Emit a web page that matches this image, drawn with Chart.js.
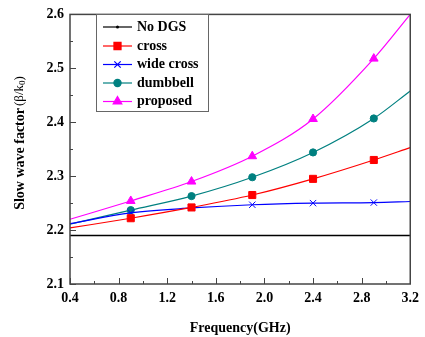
<!DOCTYPE html>
<html>
<head>
<meta charset="utf-8">
<script src="https://cdn.jsdelivr.net/npm/chart.js@4"></script>
<style>
  html, body { margin: 0; padding: 0; background: #fff; }
  #wrap { width: 425px; height: 337px; }
</style>
</head>
<body>
<div id="wrap"><canvas id="chart" width="425" height="337"></canvas></div>
<script>
// data
const freq = [0.4, 0.9, 1.4, 1.9, 2.4, 2.9, 3.2];
const noDgs = [2.19, 2.19, 2.19, 2.19, 2.19, 2.19, 2.19];
const cross = [2.204, 2.222, 2.242, 2.265, 2.295, 2.330, 2.353];
const wideCross = [2.212, 2.232, 2.241, 2.247, 2.250, 2.251, 2.253];
const dumbbell = [2.211, 2.237, 2.263, 2.298, 2.344, 2.407, 2.458];
const proposed = [2.220, 2.254, 2.290, 2.337, 2.406, 2.518, 2.600];

const xTicks = [0.4, 0.8, 1.2, 1.6, 2.0, 2.4, 2.8, 3.2];
const yTicks = [2.1, 2.2, 2.3, 2.4, 2.5, 2.6];

const FONT = '"Liberation Serif", "Times New Roman", serif';

function series(label, values, color, style, size, width) {
    return {
        label: label,
        data: freq.map((f, i) => ({ x: f, y: values[i] })),
        borderColor: color,
        backgroundColor: color,
        borderWidth: width || 1.2,
        pointStyle: style,
        // markers only on the inner points
        pointRadius: freq.map((f, i) => (!style || i === 0 || i === freq.length - 1) ? 0 : size),
        markerSize: size,
        pointBorderWidth: 1,
        cubicInterpolationMode: 'monotone',
        fill: false,
        clip: false
    };
}

// inward ticks, frame, y title and the boxed legend
const decor = {
    id: 'decor',
    afterDraw(chart) {
        const ctx = chart.ctx;
        const a = chart.chartArea;
        const xs = chart.scales.x, ys = chart.scales.y;
        ctx.save();
        ctx.strokeStyle = '#444';
        ctx.lineWidth = 1.5;
        ctx.strokeRect(a.left, a.top, a.right - a.left, a.bottom - a.top);

        ctx.lineWidth = 1;
        for (let v = 0.4; v <= 3.21; v += 0.2) {
            const px = Math.round(xs.getPixelForValue(v)) + 0.5;
            const major = Math.abs(Math.round(v / 0.4) * 0.4 - v) < 1e-6;
            ctx.beginPath();
            ctx.moveTo(px, a.bottom);
            ctx.lineTo(px, a.bottom - (major ? 6 : 3));
            ctx.stroke();
        }
        for (let v = 2.1; v <= 2.601; v += 0.05) {
            const py = Math.round(ys.getPixelForValue(v)) + 0.5;
            const major = Math.abs(Math.round(v * 10) / 10 - v) < 1e-6;
            ctx.beginPath();
            ctx.moveTo(a.left, py);
            ctx.lineTo(a.left + (major ? 6 : 3), py);
            ctx.stroke();
        }

        // y axis title: bold words, plain (β/k0) with subscript
        ctx.save();
        ctx.translate(20, 143);
        ctx.rotate(-Math.PI / 2);
        ctx.fillStyle = '#000';
        ctx.textBaseline = 'middle';
        const bold = 'bold 14px ' + FONT, plain = '13px ' + FONT, small = '9px ' + FONT;
        const parts = [['Slow wave factor', bold, 0], ['(β/k', plain, 0], ['0', small, 3], [')', plain, 0]];
        let total = 0;
        parts.forEach(p => { ctx.font = p[1]; total += ctx.measureText(p[0]).width; });
        total += 2;
        let x = -total / 2;
        parts.forEach((p, i) => {
            ctx.font = p[1];
            ctx.fillText(p[0], x, p[2]);
            x += ctx.measureText(p[0]).width + (i === 0 ? 2 : 0);
        });
        ctx.restore();

        // legend box
        const bx = 96, by = 14, bw = 112, bh = 97;
        ctx.fillStyle = '#fff';
        ctx.fillRect(bx, by, bw, bh);
        ctx.strokeStyle = '#666';
        ctx.lineWidth = 1;
        ctx.strokeRect(bx + 0.5, by + 0.5, bw, bh);
        const rows = [27, 46, 64.5, 83, 101.5];
        ctx.font = 'bold 14px ' + FONT;
        ctx.textBaseline = 'middle';
        chart.data.datasets.forEach((ds, i) => {
            const y = rows[i];
            ctx.strokeStyle = ds.borderColor;
            ctx.lineWidth = 1.2;
            ctx.beginPath();
            ctx.moveTo(103, y);
            ctx.lineTo(132, y);
            ctx.stroke();
            ctx.fillStyle = ds.borderColor;
            if (ds.pointStyle) {
                Chart.helpers.drawPoint(ctx, {
                    pointStyle: ds.pointStyle, radius: ds.markerSize, rotation: 0, borderWidth: 1
                }, 117.5, y);
            } else {
                ctx.beginPath();
                ctx.arc(117.5, y, 1.5, 0, Math.PI * 2);
                ctx.fill();
            }
            ctx.fillStyle = '#000';
            ctx.fillText(ds.label, 137, y);
        });
        ctx.restore();
    }
};

new Chart(document.getElementById('chart'), {
    type: 'line',
    data: {
        datasets: [
            series('No DGS', noDgs, '#000000', null, 0, 1.6),
            series('cross', cross, '#ff0000', 'rect', 5),
            series('wide cross', wideCross, '#0000ff', 'crossRot', 4.5),
            series('dumbbell', dumbbell, '#008080', 'circle', 3.6),
            series('proposed', proposed, '#ff00ff', 'triangle', 5)
        ]
    },
    options: {
        responsive: false,
        animation: false,
        layout: { padding: { top: 5, right: 12, left: 0, bottom: 0 } },
        plugins: {
            legend: { display: false },
            tooltip: { enabled: false }
        },
        scales: {
            x: {
                type: 'linear',
                min: 0.4,
                max: 3.2,
                afterBuildTicks: s => { s.ticks = xTicks.map(v => ({ value: v })); },
                afterFit: s => { s.height = 53; },
                grid: { display: false, drawTicks: false },
                border: { display: false },
                ticks: {
                    color: '#000',
                    padding: 6,
                    maxRotation: 0,
                    font: { family: FONT, size: 14, weight: 'bold' },
                    callback: v => v.toFixed(1)
                },
                title: {
                    display: true,
                    text: 'Frequency(GHz)',
                    color: '#000',
                    padding: { top: 4, bottom: 0 },
                    font: { family: FONT, size: 14, weight: 'bold' }
                }
            },
            y: {
                min: 2.1,
                max: 2.6,
                afterBuildTicks: s => { s.ticks = yTicks.map(v => ({ value: v })); },
                afterFit: s => { s.width = 70; },
                grid: { display: false, drawTicks: false },
                border: { display: false },
                ticks: {
                    color: '#000',
                    padding: 6,
                    font: { family: FONT, size: 14, weight: 'bold' },
                    callback: v => v.toFixed(1)
                }
            }
        }
    },
    plugins: [decor]
});
</script>
</body>
</html>
